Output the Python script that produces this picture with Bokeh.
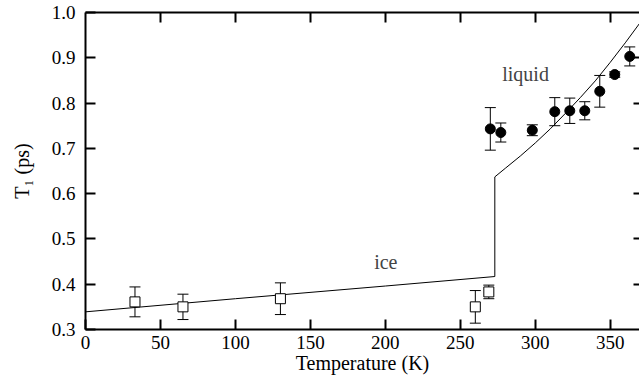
import numpy as np
from bokeh.plotting import figure
from bokeh.models import (ColumnDataSource, Whisker, TeeHead, Label, LinearAxis,
                          Range1d, FixedTicker, PrintfTickFormatter)
from bokeh.embed import file_html
from bokeh.resources import INLINE

# ---- data ----
ice_T = [33, 65, 130, 260, 269]
ice_t1 = [0.361, 0.350, 0.368, 0.350, 0.383]
ice_err = [0.033, 0.028, 0.035, 0.036, 0.015]

liq_T = [270, 277, 298, 313, 323, 333, 343, 353, 363]
liq_t1 = [0.743, 0.735, 0.740, 0.781, 0.783, 0.783, 0.826, 0.863, 0.903]
liq_err = [0.047, 0.021, 0.012, 0.031, 0.028, 0.020, 0.035, 0.006, 0.021]

model_T = [0, 100, 200, 273, 273, 280, 290, 300, 310, 320, 330, 340, 350, 360, 370]
model_t1 = [0.339, 0.368, 0.396, 0.417, 0.637, 0.656, 0.683, 0.712, 0.743,
            0.777, 0.812, 0.849, 0.890, 0.933, 0.978]

x_ticks = [0, 50, 100, 150, 200, 250, 300, 350]
y_ticks = [0.3, 0.4, 0.5, 0.6, 0.7, 0.8, 0.9, 1.0]

FONT = "Liberation Serif"
FS_TICK = "19px"
FS = "20px"

p = figure(width=639, height=389, output_backend="svg", toolbar_location=None,
           x_range=Range1d(0, 369.5), y_range=Range1d(0.3, 1.0),
           min_border_left=85, min_border_right=0, min_border_top=12,
           min_border_bottom=60, background_fill_color="white",
           border_fill_color="white")
p.outline_line_color = None
p.grid.visible = False

for ax in (p.xaxis[0], p.yaxis[0]):
    ax.major_tick_in = 10
    ax.major_tick_out = 0
    ax.minor_tick_line_color = None
    ax.axis_line_width = 2
    ax.major_tick_line_width = 2
    ax.major_label_text_font = FONT
    ax.major_label_text_font_size = FS_TICK
    ax.major_label_text_color = "black"
    ax.axis_line_color = "black"
    ax.axis_label_text_font = FONT
    ax.axis_label_text_font_size = FS
    ax.axis_label_text_font_style = "normal"
    ax.axis_label_text_color = "black"

p.xaxis.ticker = FixedTicker(ticks=x_ticks)
p.yaxis.ticker = FixedTicker(ticks=y_ticks)
p.yaxis.formatter = PrintfTickFormatter(format="%.1f")
p.xaxis.major_label_standoff = 6
p.yaxis.major_label_standoff = 10
p.xaxis.axis_label = "Temperature (K)"
p.xaxis.axis_label_standoff = 0
p.yaxis.axis_label = "T\u2081 (ps)"
p.yaxis.axis_label_standoff = 16

# top and right frame ticks (minor ticks carry no labels)
top = LinearAxis(ticker=FixedTicker(ticks=[], minor_ticks=x_ticks[1:]),
                 major_tick_line_color=None, minor_tick_in=10, minor_tick_out=0,
                 minor_tick_line_width=2, minor_tick_line_color="black",
                 axis_line_width=2, axis_line_color="black")
p.add_layout(top, "above")
right = LinearAxis(ticker=FixedTicker(ticks=[], minor_ticks=y_ticks[1:-1]),
                   major_tick_line_color=None, minor_tick_in=6, minor_tick_out=0,
                   minor_tick_line_width=2, minor_tick_line_color="black",
                   axis_line_color=None)
p.add_layout(right, "right")

# model curve
p.line(model_T, model_t1, line_color="black", line_width=1)

# error bars
ice_src = ColumnDataSource(dict(x=ice_T, y=ice_t1,
                                lo=[a - b for a, b in zip(ice_t1, ice_err)],
                                hi=[a + b for a, b in zip(ice_t1, ice_err)]))
liq_src = ColumnDataSource(dict(x=liq_T, y=liq_t1,
                                lo=[a - b for a, b in zip(liq_t1, liq_err)],
                                hi=[a + b for a, b in zip(liq_t1, liq_err)]))
for src in (ice_src, liq_src):
    w = Whisker(source=src, base="x", upper="hi", lower="lo", dimension="height",
                line_color="black", line_width=1,
                upper_head=TeeHead(size=11, line_color="black", line_width=1),
                lower_head=TeeHead(size=11, line_color="black", line_width=1))
    p.add_layout(w)

p.scatter("x", "y", source=ice_src, marker="square", size=10,
          fill_color="white", line_color="black", line_width=1)
p.scatter("x", "y", source=liq_src, marker="circle", size=10,
          fill_color="black", line_color="black")

# annotations
p.add_layout(Label(x=293.5, y=0.865, text="liquid", text_font=FONT, text_font_size=FS,
                   text_align="center", text_baseline="middle"))
p.add_layout(Label(x=200.3, y=0.449, text="ice", text_font=FONT, text_font_size=FS,
                   text_align="center", text_baseline="middle"))

open("out.html", "w").write(file_html(p, INLINE))
